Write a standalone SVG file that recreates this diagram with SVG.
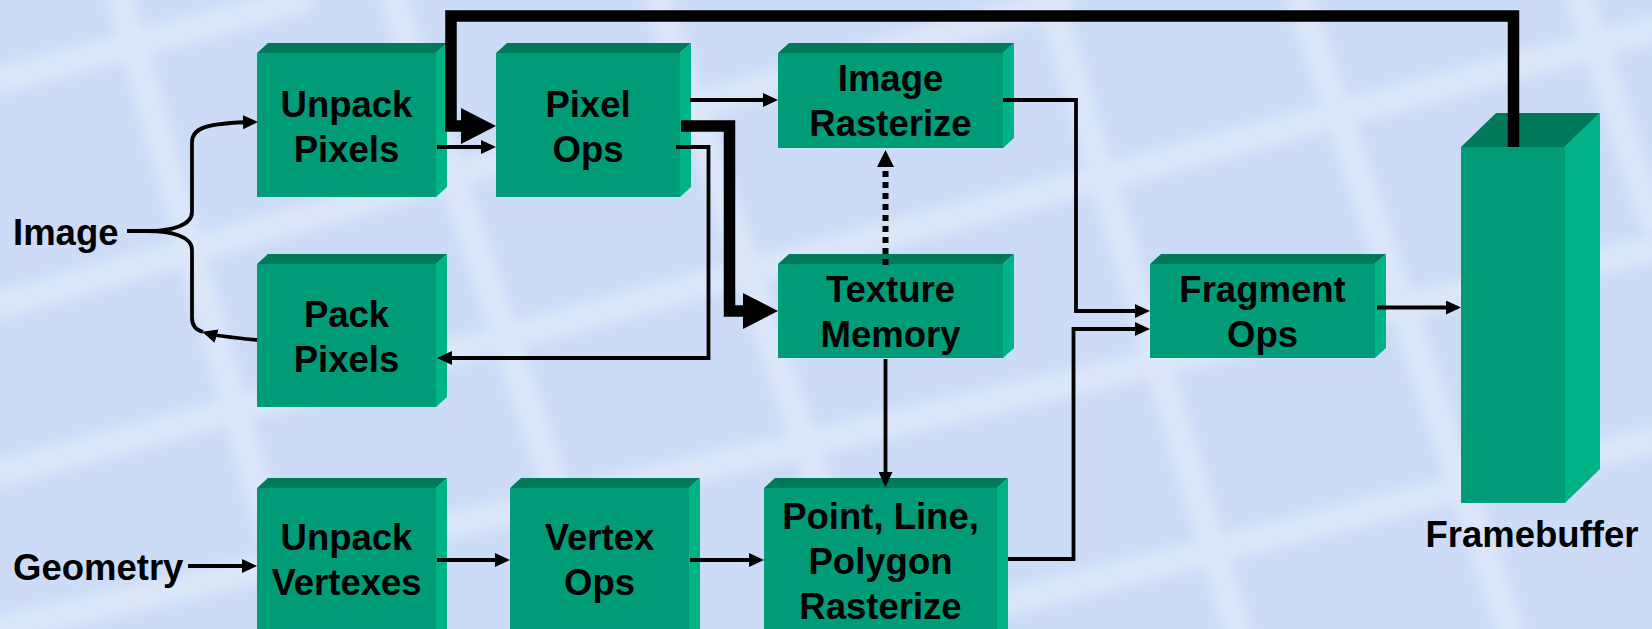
<svg xmlns="http://www.w3.org/2000/svg" width="1652" height="629" viewBox="0 0 1652 629">
<defs>
<style>
.front{fill:#009B77}
.top{fill:#007A5B}
.side{fill:#00B386}
.lbl{font-family:"Liberation Sans",Arial,sans-serif;font-weight:bold;font-size:36.5px;fill:#000}
.c{text-anchor:middle}
.thin{fill:none;stroke:#000;stroke-width:3.8;marker-end:url(#arr)}
.thick{fill:none;stroke:#000;stroke-width:11.5;stroke-linejoin:miter;marker-end:url(#big)}
.bgl{fill:none;stroke:#DCE7F9;stroke-width:26;stroke-linecap:round}
</style>
<marker id="arr" markerUnits="userSpaceOnUse" viewBox="0 0 15 14" markerWidth="15" markerHeight="14" refX="11" refY="7" orient="auto">
<path d="M0,0 L15,7 L0,14 z" fill="#000"/>
</marker>
<marker id="big" markerUnits="userSpaceOnUse" viewBox="0 0 35 36" markerWidth="35" markerHeight="36" refX="3" refY="18" orient="auto">
<path d="M0,0 L35,18 L0,36 z" fill="#000"/>
</marker>
<marker id="dot" markerUnits="userSpaceOnUse" viewBox="0 0 17 17" markerWidth="17" markerHeight="17" refX="1" refY="8.5" orient="auto">
<path d="M0,0 L17,8.5 L0,17 z" fill="#000"/>
</marker>
<filter id="soft" x="-5%" y="-5%" width="110%" height="110%"><feGaussianBlur stdDeviation="6"/></filter>
</defs>

<g id="background">
<rect x="0" y="0" width="1652" height="629" fill="#CCDCF6"/>
<g filter="url(#soft)">
<path class="bgl" d="M121,0 L297,629"/>
<path class="bgl" d="M394,0 L602,629"/>
<path class="bgl" d="M658,0 L866,629"/>
<path class="bgl" d="M1050,0 L1237,629"/>
<path class="bgl" d="M1300,0 L1510,629"/>
<path class="bgl" d="M1580,0 L1652,220"/>
<path class="bgl" d="M0,80 L300,0"/>
<path class="bgl" d="M0,305 L1062,0"/>
<path class="bgl" d="M0,473 L1652,30"/>
<path class="bgl" d="M0,629 L1652,249"/>
<path class="bgl" d="M900,629 L1652,440"/>
</g>
</g>

<g id="node-unpack-pixels">
<polygon class="top" points="257,53 268,43 447,43 436,53"/>
<polygon class="side" points="436,53 447,43 447,187 436,197"/>
<rect class="front" x="257" y="53" width="179" height="144"/>
<text class="lbl c" x="346.5" y="117">Unpack</text>
<text class="lbl c" x="346.5" y="162">Pixels</text>
</g>

<g id="node-pixel-ops">
<polygon class="top" points="496,53 507,43 691,43 680,53"/>
<polygon class="side" points="680,53 691,43 691,187 680,197"/>
<rect class="front" x="496" y="53" width="184" height="144"/>
<text class="lbl c" x="588" y="117">Pixel</text>
<text class="lbl c" x="588" y="162">Ops</text>
</g>

<g id="node-image-rasterize">
<polygon class="top" points="778,53 789,43 1014,43 1003,53"/>
<polygon class="side" points="1003,53 1014,43 1014,138 1003,148"/>
<rect class="front" x="778" y="53" width="225" height="95"/>
<text class="lbl c" x="890.5" y="91">Image</text>
<text class="lbl c" x="890.5" y="136">Rasterize</text>
</g>

<g id="node-texture-memory">
<polygon class="top" points="778,264 789,254 1014,254 1003,264"/>
<polygon class="side" points="1003,264 1014,254 1014,348 1003,358"/>
<rect class="front" x="778" y="264" width="225" height="94"/>
<text class="lbl c" x="890.5" y="302">Texture</text>
<text class="lbl c" x="890.5" y="347">Memory</text>
</g>

<g id="node-pack-pixels">
<polygon class="top" points="257,264 268,254 447,254 436,264"/>
<polygon class="side" points="436,264 447,254 447,397 436,407"/>
<rect class="front" x="257" y="264" width="179" height="143"/>
<text class="lbl c" x="346.5" y="327">Pack</text>
<text class="lbl c" x="346.5" y="372">Pixels</text>
</g>

<g id="node-fragment-ops">
<polygon class="top" points="1150,264 1161,254 1386,254 1375,264"/>
<polygon class="side" points="1375,264 1386,254 1386,348 1375,358"/>
<rect class="front" x="1150" y="264" width="225" height="94"/>
<text class="lbl c" x="1262.5" y="302">Fragment</text>
<text class="lbl c" x="1262.5" y="347">Ops</text>
</g>

<g id="node-unpack-vertexes">
<polygon class="top" points="257,488 268,478 447,478 436,488"/>
<polygon class="side" points="436,488 447,478 447,640 436,640"/>
<rect class="front" x="257" y="488" width="179" height="152"/>
<text class="lbl c" x="346.5" y="550">Unpack</text>
<text class="lbl c" x="346.5" y="595">Vertexes</text>
</g>

<g id="node-vertex-ops">
<polygon class="top" points="510,488 521,478 700,478 689,488"/>
<polygon class="side" points="689,488 700,478 700,640 689,640"/>
<rect class="front" x="510" y="488" width="179" height="152"/>
<text class="lbl c" x="599.5" y="550">Vertex</text>
<text class="lbl c" x="599.5" y="595">Ops</text>
</g>

<g id="node-point-line-polygon-rasterize">
<polygon class="top" points="764,488 775,478 1008,478 997,488"/>
<polygon class="side" points="997,488 1008,478 1008,640 997,640"/>
<rect class="front" x="764" y="488" width="233" height="152"/>
<text class="lbl c" x="880.5" y="529">Point, Line,</text>
<text class="lbl c" x="880.5" y="574">Polygon</text>
<text class="lbl c" x="880.5" y="619">Rasterize</text>
</g>

<g id="node-framebuffer">
<polygon class="top" points="1461,147 1496,113 1600,113 1565,147"/>
<polygon class="side" points="1565,147 1600,113 1600,469 1565,503"/>
<rect class="front" x="1461" y="147" width="104" height="356"/>
<text class="lbl c" x="1532" y="547">Framebuffer</text>
</g>

<g id="node-image">
<text class="lbl" x="13" y="245">Image</text>
</g>

<g id="node-geometry">
<text class="lbl" x="13" y="580">Geometry</text>
</g>

<g id="connectors">
<path class="thin" d="M127,231 H148 C170,231 192,226 192,212 V142 C192,128 206,123 254,122"/>
<path fill="none" stroke="#000" stroke-width="3.8" d="M148,231 C170,231 192,236 192,250 V318 C192,326 196,330 203,332"/>
<path class="thin" d="M257,340 C236,338 216,336 206,333"/>
<path class="thin" d="M437,147 H492"/>
<path class="thin" d="M690,100 H774"/>
<path class="thin" d="M676,147 H708.5 V358 H441"/>
<path class="thin" d="M1003,100 H1076 V311 H1146"/>
<path class="thin" d="M1008,559 H1073.5 V329 H1146"/>
<path class="thin" d="M1377,307.5 H1457"/>
<path class="thin" d="M188,566 H253"/>
<path class="thin" d="M437,560 H506"/>
<path class="thin" d="M690,560 H760"/>
<path class="thin" d="M885.5,359 V483"/>
<path fill="none" stroke="#000" stroke-width="6" stroke-dasharray="6,5" marker-end="url(#dot)" d="M885.5,265 V166"/>
<path class="thick" d="M1513.5,147 V16 H451 V126 H464"/>
<path class="thick" d="M681,126 H729.5 V311 H746"/>
</g>
</svg>
